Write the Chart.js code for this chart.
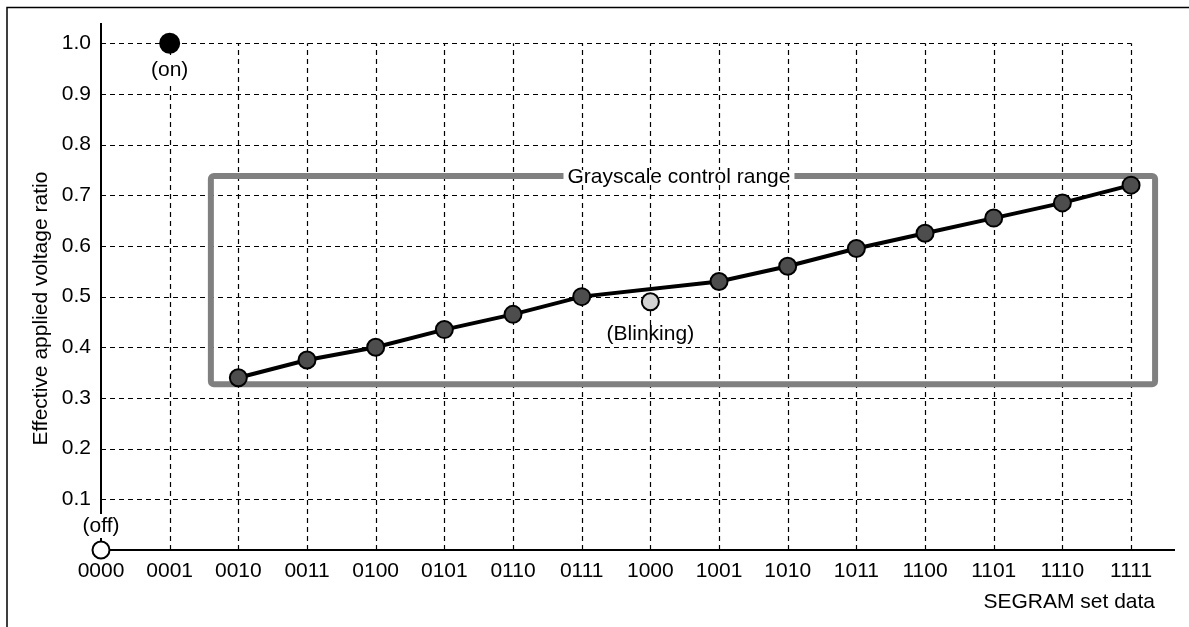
<!DOCTYPE html>
<html>
<head>
<meta charset="utf-8">
<script src="https://cdn.jsdelivr.net/npm/chart.js@4"></script>
<style>
  body { margin: 0; background: #fff; }
  #wrap { width: 1189px; height: 627px; }
</style>
</head>
<body>
<div id="wrap"><canvas id="chart"></canvas></div>
<script>
// SEGRAM codes on the x axis
const codes = ['0000', '0001', '0010', '0011', '0100', '0101', '0110', '0111',
               '1000', '1001', '1010', '1011', '1100', '1101', '1110', '1111'];
// effective applied voltage ratio per code
const ratio = [0, 1.0, 0.34, 0.375, 0.40, 0.435, 0.465, 0.50,
               0.49, 0.53, 0.56, 0.595, 0.625, 0.655, 0.685, 0.72];
// what each point is: off / on / gray step / blinking
const kind = ['off', 'on', 'gray', 'gray', 'gray', 'gray', 'gray', 'gray',
              'blink', 'gray', 'gray', 'gray', 'gray', 'gray', 'gray', 'gray'];
const yTicks = [0.1, 0.2, 0.3, 0.4, 0.5, 0.6, 0.7, 0.8, 0.9, 1.0];
// grayscale control range box, in data units
const rangeX = [1.6, 15.35];
const rangeY = [0.327, 0.738];
const xAxisEnd = 15.64;
const yAxisEnd = 1.04;

const FONT = '"Liberation Sans", Arial, sans-serif';
const fs = 21;

const linePts = ratio.map((v, i) => ({x: i, y: kind[i] === 'gray' ? v : null}));
const markPts = ratio.map((v, i) => ({x: i, y: v})).filter((p, i) => kind[i] !== 'gray');
const markKind = kind.filter(k => k !== 'gray');
const fillFor = {off: '#ffffff', on: '#000000', blink: '#d3d3d3'};
const radFor = {off: 8.5, on: 9.5, blink: 8.5};

const decor = {
  id: 'decor',
  beforeDraw(chart) {
    const c = chart.ctx;
    c.save();
    c.fillStyle = '#fff';
    c.fillRect(0, 0, chart.width, chart.height);
    // frame lines top/left
    c.strokeStyle = '#000';
    c.lineWidth = 1.5;
    c.beginPath();
    c.moveTo(7, chart.height); c.lineTo(7, 7.5); c.lineTo(chart.width, 7.5);
    c.stroke();
    c.restore();
  },
  beforeDatasetsDraw(chart) {
    const c = chart.ctx, x = chart.scales.x, y = chart.scales.y;
    const x0 = x.getPixelForValue(0), x15 = x.getPixelForValue(codes.length - 1);
    const y0 = y.getPixelForValue(0), y1 = y.getPixelForValue(1.0);
    c.save();
    // dashed grid
    c.strokeStyle = '#000';
    c.lineWidth = 1.2;
    c.setLineDash([5, 4]);
    c.beginPath();
    yTicks.forEach(v => {
      const py = Math.round(y.getPixelForValue(v)) + 0.5;
      c.moveTo(x0, py); c.lineTo(x15, py);
    });
    codes.forEach((cd, i) => {
      if (i === 0) return;
      const px = Math.round(x.getPixelForValue(i)) + 0.5;
      c.moveTo(px, y0); c.lineTo(px, y1);
    });
    c.stroke();
    c.setLineDash([]);
    // axes
    c.lineWidth = 2;
    c.beginPath();
    c.moveTo(x0, chart.chartArea.top); c.lineTo(x0, y0);
    c.lineTo(chart.chartArea.right, y0);
    c.stroke();
    // grayscale range box
    const bx0 = x.getPixelForValue(rangeX[0]), bx1 = x.getPixelForValue(rangeX[1]);
    const by0 = y.getPixelForValue(rangeY[1]), by1 = y.getPixelForValue(rangeY[0]);
    c.strokeStyle = '#808080';
    c.lineWidth = 6;
    c.lineJoin = 'round';
    c.beginPath();
    c.roundRect(bx0, by0, bx1 - bx0, by1 - by0, 3);
    c.stroke();
    // label on the box
    c.font = fs + 'px ' + FONT;
    c.textAlign = 'center';
    c.textBaseline = 'middle';
    const label = 'Grayscale control range';
    const w = c.measureText(label).width;
    const cx = (bx0 + bx1) / 2 - 4;
    c.fillStyle = '#fff';
    c.fillRect(cx - w / 2 - 4, by0 - 6, w + 8, 12);
    c.fillStyle = '#000';
    c.fillText(label, cx, by0 + 1);
    c.restore();
  },
  afterDatasetsDraw(chart) {
    const c = chart.ctx, x = chart.scales.x, y = chart.scales.y;
    c.save();
    c.font = fs + 'px ' + FONT;
    c.textAlign = 'center';
    c.textBaseline = 'middle';
    const note = (txt, px, py, bg) => {
      if (bg) {
        const w = c.measureText(txt).width;
        c.fillStyle = '#fff';
        c.fillRect(px - w / 2 - 2, py - 12, w + 4, 24);
      }
      c.fillStyle = '#000';
      c.fillText(txt, px, py);
    };
    const on = kind.indexOf('on'), off = kind.indexOf('off'), bl = kind.indexOf('blink');
    note('(on)', x.getPixelForValue(on), y.getPixelForValue(ratio[on]) + 27, true);
    note('(off)', x.getPixelForValue(off), y.getPixelForValue(ratio[off]) - 24, true);
    note('(Blinking)', x.getPixelForValue(bl), y.getPixelForValue(ratio[bl]) + 33, false);
    // axis titles
    c.textAlign = 'right';
    c.textBaseline = 'alphabetic';
    c.fillText('SEGRAM set data', 1155, 608);
    c.translate(47, (y.getPixelForValue(0) + y.getPixelForValue(1.0)) / 2 + 12);
    c.rotate(-Math.PI / 2);
    c.textAlign = 'center';
    c.fillText('Effective applied voltage ratio', 0, 0);
    c.restore();
  }
};

new Chart(document.getElementById('chart'), {
  type: 'scatter',
  data: {
    datasets: [{
      data: linePts,
      showLine: true,
      spanGaps: true,
      borderColor: '#000',
      borderWidth: 4,
      pointRadius: 8.5,
      pointBackgroundColor: '#4d4d4d',
      pointBorderColor: '#000',
      pointBorderWidth: 2,
      clip: false
    }, {
      data: markPts,
      showLine: false,
      pointRadius: ctx => radFor[markKind[ctx.dataIndex]],
      pointBackgroundColor: ctx => fillFor[markKind[ctx.dataIndex]],
      pointBorderColor: '#000',
      pointBorderWidth: 2,
      clip: false
    }]
  },
  options: {
    responsive: true,
    maintainAspectRatio: false,
    animation: false,
    layout: { padding: { top: 23, right: 14, left: 0, bottom: 0 } },
    plugins: { legend: { display: false }, tooltip: { enabled: false } },
    scales: {
      x: {
        type: 'linear',
        min: 0,
        max: xAxisEnd,
        afterBuildTicks: s => { s.ticks = codes.map((cd, i) => ({value: i})); },
        afterFit: s => { s.height = 77; },
        grid: { display: false, drawTicks: false },
        border: { display: false },
        ticks: {
          callback: (v, i) => codes[i],
          color: '#000',
          font: { family: FONT, size: fs },
          padding: 9,
          maxRotation: 0,
          autoSkip: false
        }
      },
      y: {
        min: 0,
        max: yAxisEnd,
        afterBuildTicks: s => { s.ticks = yTicks.map(v => ({value: v})); },
        afterFit: s => { s.width = 101; },
        grid: { display: false, drawTicks: false },
        border: { display: false },
        ticks: {
          callback: v => v.toFixed(1),
          color: '#000',
          font: { family: FONT, size: fs },
          padding: 10
        }
      }
    }
  },
  plugins: [decor]
});
</script>
</body>
</html>
